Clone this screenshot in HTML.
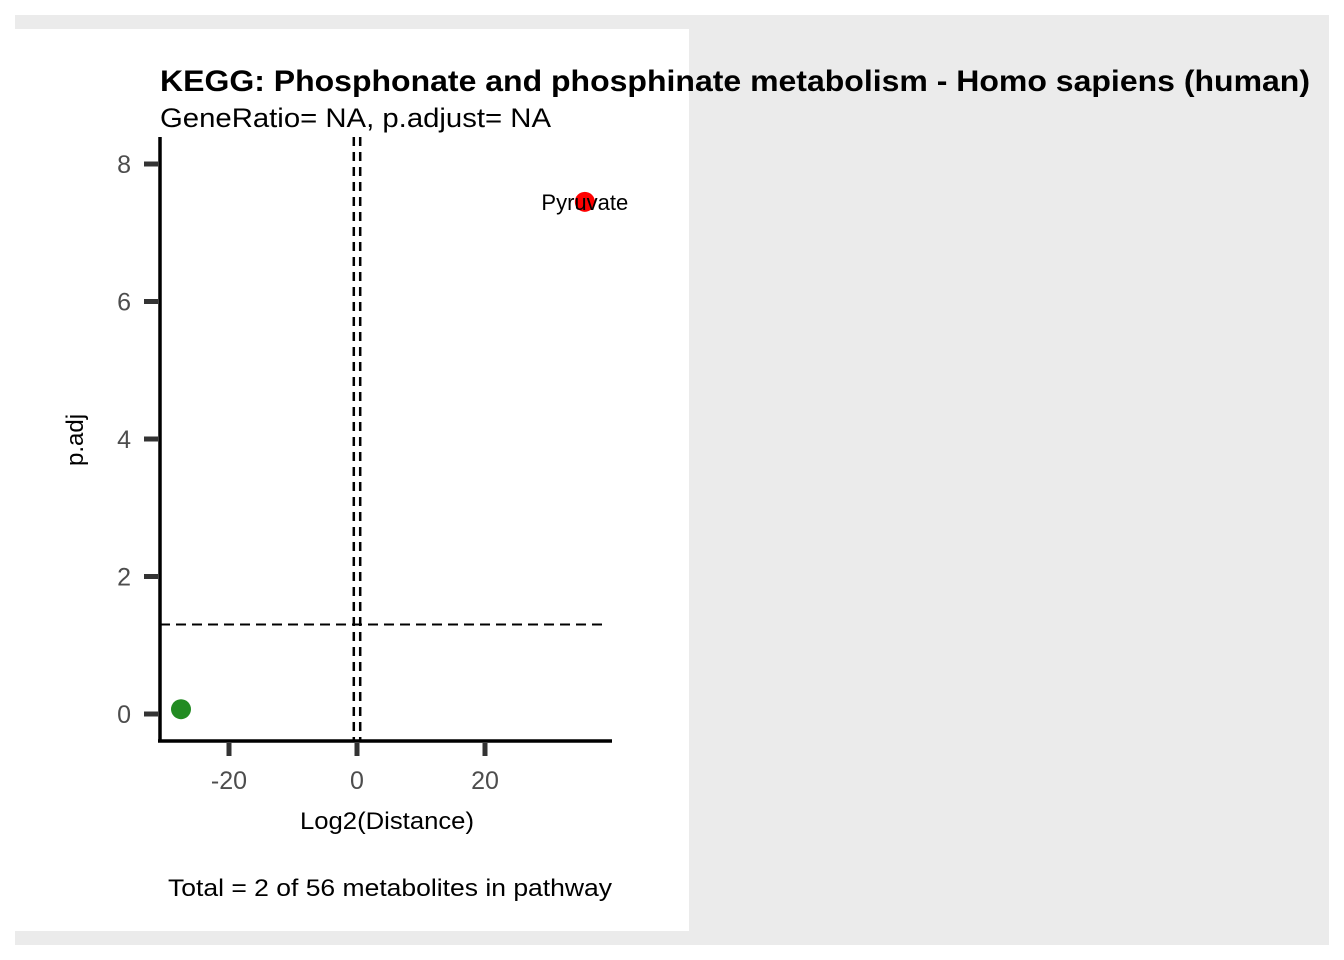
<!DOCTYPE html>
<html><head><meta charset="utf-8"><style>
body{margin:0;background:#fff;}
svg{display:block;font-family:"Liberation Sans",Arial,sans-serif;}
</style></head><body>
<svg width="1344" height="960">
<rect x="15" y="15" width="1314" height="930" fill="#ebebeb"/>
<rect x="15" y="29" width="674" height="902" fill="#ffffff"/>
<text x="160" y="91" font-size="30" font-weight="bold" fill="#000" textLength="1150" lengthAdjust="spacingAndGlyphs">KEGG: Phosphonate and phosphinate metabolism - Homo sapiens (human)</text>
<text x="160" y="127" font-size="27" fill="#000" textLength="391" lengthAdjust="spacingAndGlyphs">GeneRatio= NA, p.adjust= NA</text>
<g id="plot"></g>
<text x="300" y="829" font-size="24" fill="#000" textLength="174" lengthAdjust="spacingAndGlyphs">Log2(Distance)</text>
<text transform="translate(83,440) rotate(-90)" font-size="24" text-anchor="middle" fill="#000">p.adj</text>
<text x="168" y="896" font-size="24" fill="#000" textLength="444" lengthAdjust="spacingAndGlyphs">Total = 2 of 56 metabolites in pathway</text>
</svg>
<script>
const xVals=[-27.5,35.6];
const yVals=[0.07,7.45];
const colors=['#228b22','#ff0000'];
const labels=['','Pyruvate'];
const xTicks=[-20,0,20];
const yTicks=[0,2,4,6,8];
const hLine=1.301;
const vLines=[-0.5,0.5];
const NS='http://www.w3.org/2000/svg';
const g=document.getElementById('plot');
const sx=v=>357+v*6.4;
const sy=v=>714-v*68.75;
function el(t,a){const e=document.createElementNS(NS,t);for(const k in a)e.setAttribute(k,a[k]);g.appendChild(e);return e;}
vLines.forEach(v=>{const e=el('line',{x1:sx(v),x2:sx(v),y1:137,y2:741,stroke:'#000','stroke-width':2.5,'stroke-dasharray':'9 6'});

});
{const e=el('line',{x1:160,x2:606,y1:sy(hLine),y2:sy(hLine),stroke:'#000','stroke-width':2,'stroke-dasharray':'10 6'});

}
{const e=el('line',{x1:160,x2:160,y1:137,y2:742,stroke:'#000','stroke-width':3.5});

}
{const e=el('line',{x1:158,x2:612,y1:741,y2:741,stroke:'#000','stroke-width':3.5});

}
xTicks.forEach(v=>{const t=el('line',{x1:sx(v),x2:sx(v),y1:743,y2:756,stroke:'#333','stroke-width':5});


const l=el('text',{x:sx(v),y:789,'font-size':25,'text-anchor':'middle',fill:'#4d4d4d'});l.textContent=v;

});
yTicks.forEach(v=>{const t=el('line',{x1:144,x2:158,y1:sy(v),y2:sy(v),stroke:'#333','stroke-width':5});


const l=el('text',{x:131,y:sy(v)+9,'font-size':25,'text-anchor':'end',fill:'#4d4d4d'});l.textContent=v;

});
xVals.forEach((v,i)=>{const c=el('circle',{cx:sx(v),cy:sy(yVals[i]),r:10,fill:colors[i]});


if(labels[i]){const l=el('text',{x:sx(v),y:sy(yVals[i])+8,'font-size':22,'text-anchor':'middle',fill:'#000'});l.textContent=labels[i];

}});
</script>
</body></html>
